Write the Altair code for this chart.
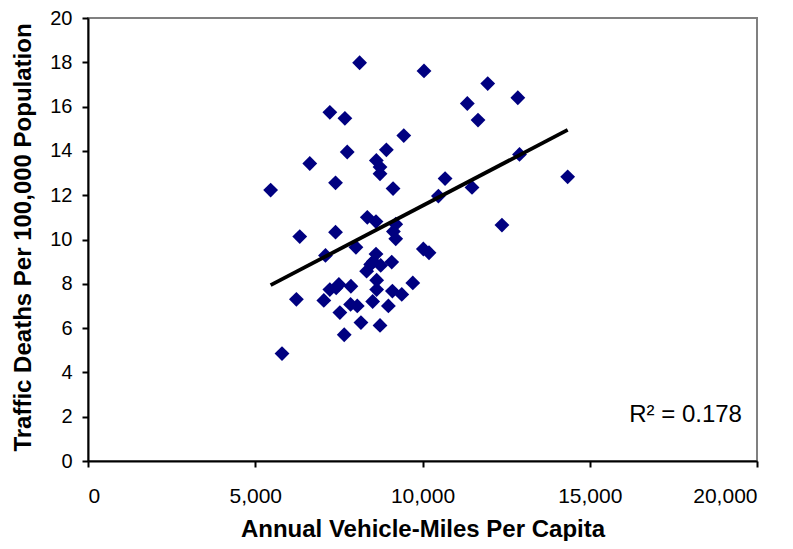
import altair as alt
import pandas as pd

# Scatter data: annual vehicle-miles per capita vs traffic deaths per 100,000
vmt = [5460, 5800, 6230, 6330, 6630, 7050, 7100, 7230, 7230, 7400,
       7400, 7420, 7500, 7530, 7660, 7680, 7750, 7860, 7850, 8010,
       8050, 8120, 8160, 8330, 8350, 8450, 8510, 8530, 8610, 8610,
       8620, 8630, 8630, 8730, 8730, 8730, 8750, 8920, 8980, 9080,
       9100, 9120, 9130, 9200, 9200, 9380, 9440, 9710, 10025, 10045,
       10195, 10475, 10675, 11340, 11480, 11660, 11950, 12375, 12850, 12900,
       14340]
deaths = [12.23, 4.85, 7.30, 10.13, 13.43, 7.25, 9.28, 15.74, 7.74, 12.56,
          10.33, 7.82, 7.97, 6.70, 5.70, 15.47, 13.95, 7.89, 7.07, 9.65,
          7.00, 17.98, 6.25, 8.57, 11.00, 8.87, 7.20, 9.01, 10.81, 9.34,
          13.57, 8.16, 7.74, 13.27, 12.97, 6.12, 8.83, 14.05, 7.00, 8.98,
          7.67, 12.30, 10.36, 10.69, 10.03, 7.52, 14.69, 8.04, 9.57, 17.61,
          9.40, 11.96, 12.75, 16.14, 12.35, 15.39, 17.04, 10.65, 16.40, 13.84,
          12.83]

# Linear trendline endpoints (as drawn)
trend_x = [5460, 14340]
trend_y = [7.94, 14.95]

# R-squared annotation
r2_label = ["R\u00b2 = 0.178"]
r2_x = [19550]
r2_y = [1.78]

x_ticks = [0, 5000, 10000, 15000, 20000]
y_ticks = [0, 2, 4, 6, 8, 10, 12, 14, 16, 18, 20]

pts = pd.DataFrame({"vmt": vmt, "deaths": deaths})
trend = pd.DataFrame({"vmt": trend_x, "deaths": trend_y})
ann = pd.DataFrame({"vmt": r2_x, "deaths": r2_y, "label": r2_label})

FONT = "Liberation Sans"

x_enc = alt.X(
    "vmt:Q",
    scale=alt.Scale(domain=[0, 20000], nice=False, zero=True),
    axis=alt.Axis(
        values=x_ticks, format=",.0f", title="Annual Vehicle-Miles Per Capita",
        labelBaseline="alphabetic", labelPadding=35, labelFontSize=21,
        titleY=75, titleBaseline="alphabetic",
    ),
)
y_enc = alt.Y(
    "deaths:Q",
    scale=alt.Scale(domain=[0, 20], nice=False),
    axis=alt.Axis(
        values=y_ticks, title="Traffic Deaths Per 100,000 Population",
        labelPadding=10, labelFontSize=20,
        titleX=-58, titleY=219, titleBaseline="alphabetic",
    ),
)

points = alt.Chart(pts).mark_point(
    shape="diamond", filled=True, size=220, color="#000080", opacity=1
).encode(x=x_enc, y=y_enc)

line = alt.Chart(trend).mark_line(color="black", strokeWidth=3.8).encode(
    x="vmt:Q", y="deaths:Q"
)

text = alt.Chart(ann).mark_text(
    align="right", baseline="alphabetic", font=FONT, fontSize=24, color="black"
).encode(x="vmt:Q", y="deaths:Q", text="label:N")

chart = alt.layer(points, line, text).properties(
    width=669, height=443,
    autosize=alt.AutoSizeParams(type="none"),
    padding={"left": 80, "top": 10, "right": 28, "bottom": 80},
).configure_view(
    stroke="#808080", strokeWidth=2
).configure_axis(
    grid=False,
    domainColor="black", domainWidth=2,
    tickColor="black", tickWidth=2, tickSize=6,
    labelFont=FONT, labelColor="black",
    titleFont=FONT, titleFontSize=24, titleFontWeight="bold", titleColor="black",
    labelOverlap=False,
)

chart.save("out.html", embed_options={"renderer": "svg", "actions": False})
